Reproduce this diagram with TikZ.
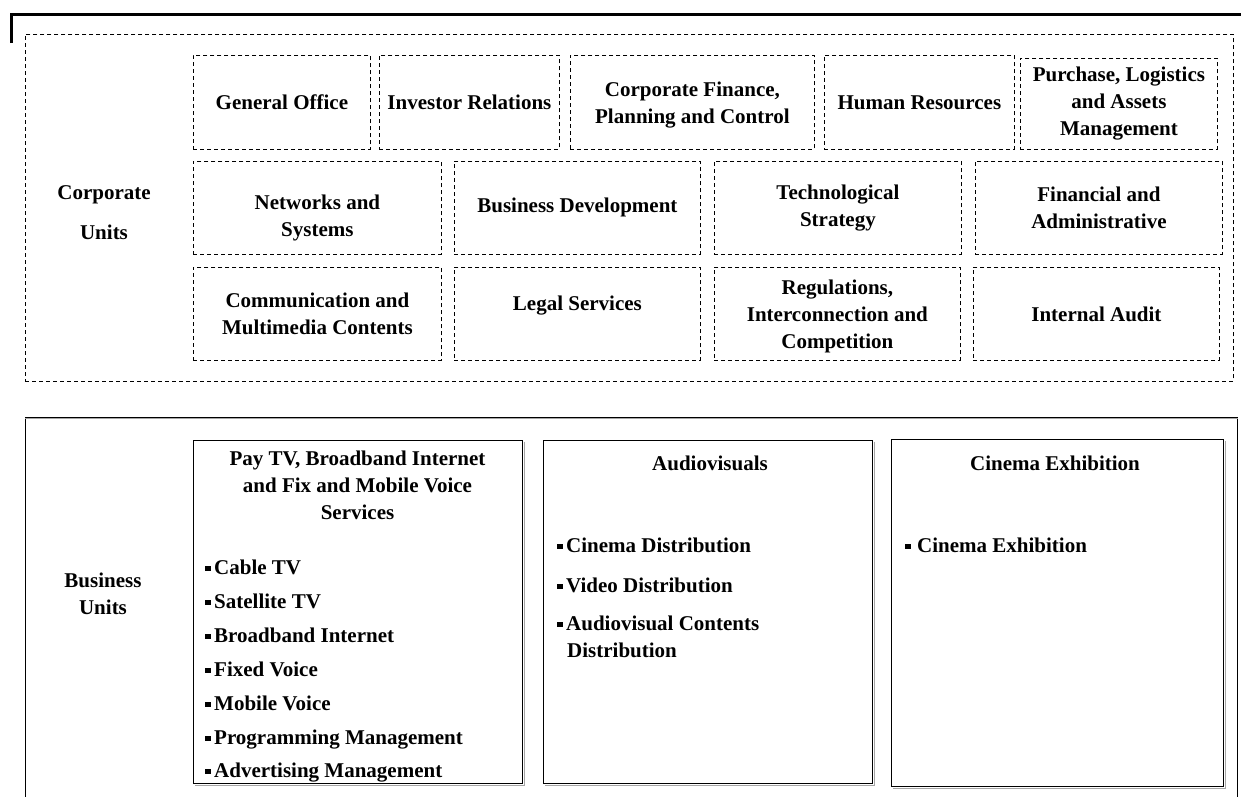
\documentclass[tikz,border=0pt]{standalone}
\usepackage{fontspec}
\setmainfont{Liberation Serif}
\newcommand{\bul}{\rule[3pt]{5.5pt}{5.5pt}\hspace{3.5pt}}
\begin{document}
\begin{tikzpicture}[x=1pt,y=-1pt,
  every node/.style={font=\bfseries\fontsize{21}{27}\selectfont, inner sep=0pt},
  cu/.style={draw, line width=0.8pt, dash pattern=on 4pt off 3pt, align=center, anchor=north west},
  bu/.style={draw, line width=1.2pt, anchor=north west},
  shd/.style={draw=black!35, line width=1pt},
  lbl/.style={align=center},
  item/.style={anchor=base west}]
\useasboundingbox (0,0) rectangle (1241,796);
% top frame line
\coordinate (tl) at (11,43);
\coordinate (tc) at (11,14.5);
\coordinate (tr) at (1241,14.5);
\draw[line width=3pt] (tl) -- (tc) -- (tr);
% corporate units
\node[draw, line width=0.9pt, dash pattern=on 4pt off 3pt, anchor=north west,
      minimum width=1208pt, minimum height=347pt] (corp) at (25,34) {};
\node[lbl] (corplbl) at (104,213) {Corporate\\[13pt]Units};
% row 1
\node[cu, minimum width=177pt, minimum height=94pt] (go) at (193,55) {General Office};
\node[cu, minimum width=180pt, minimum height=94pt] (ir) at (379,55) {Investor Relations};
\node[cu, minimum width=244pt, minimum height=94pt, text height=47.5pt] (cf) at (570,55) {Corporate Finance,\\Planning and Control};
\node[cu, minimum width=190pt, minimum height=94pt] (hr) at (824,55) {Human Resources};
\node[cu, minimum width=197pt, minimum height=91pt] (pl) at (1020,58) {Purchase, Logistics\\and Assets\\Management};
% row 2
\node[cu, minimum width=248pt, minimum height=93pt, text height=62pt] (ns) at (193,161) {Networks and\\Systems};
\node[cu, minimum width=246pt, minimum height=93pt] (bd) at (454,161) {Business Development};
\node[cu, minimum width=247pt, minimum height=93pt] (ts) at (714,161) {Technological\\Strategy};
\node[cu, minimum width=247pt, minimum height=93pt] (fa) at (975,161) {Financial and\\Administrative};
% row 3
\node[cu, minimum width=248pt, minimum height=93pt] (cm) at (193,267) {Communication and\\Multimedia Contents};
\node[cu, minimum width=246pt, minimum height=93pt, text depth=22pt] (ls) at (454,267) {Legal Services};
\node[cu, minimum width=246pt, minimum height=93pt, text height=74pt] (rc) at (714,267) {Regulations,\\Interconnection and\\Competition};
\node[cu, minimum width=246pt, minimum height=93pt] (ia) at (973,267) {Internal Audit};
% business units
\node[draw, line width=1.2pt, anchor=north west, minimum width=1212pt, minimum height=420pt] (busi) at (25,417) {};
\draw[shd] ([shift={(0,1.6)}]busi.north west) -- ([shift={(0,1.6)}]busi.north east);
\node[lbl] (busilbl) at (103,594) {Business\\Units};
\node[bu, minimum width=329pt, minimum height=343pt] (paytv) at (193,440) {};
\node[bu, minimum width=329pt, minimum height=343pt] (audio) at (543,440) {};
\node[bu, minimum width=332pt, minimum height=347pt] (cinema) at (891,439) {};
\foreach \b in {paytv,audio,cinema}{
  \draw[shd] ([shift={(1.6,1.6)}]\b.north east) -- ([shift={(1.6,1.6)}]\b.south east)
             -- ([shift={(1.6,1.6)}]\b.south west);
}
\node[lbl] (paytvT) at (357.5,485) {Pay TV, Broadband Internet\\and Fix and Mobile Voice\\Services};
\node (audioT) at (710,463) {Audiovisuals};
\node (cinemaT) at (1055,463) {Cinema Exhibition};
\node[item] (p1) at (205,574) {\bul Cable TV};
\node[item] (p2) at (205,608) {\bul Satellite TV};
\node[item] (p3) at (205,642) {\bul Broadband Internet};
\node[item] (p4) at (205,676) {\bul Fixed Voice};
\node[item] (p5) at (205,710) {\bul Mobile Voice};
\node[item] (p6) at (205,744) {\bul Programming Management};
\node[item] (p7) at (205,777) {\bul Advertising Management};
\node[item] (a1) at (557,552) {\bul Cinema Distribution};
\node[item] (a2) at (557,592) {\bul Video Distribution};
\node[item] (a3) at (557,630) {\bul Audiovisual Contents};
\node[item] (a4) at (567,657) {Distribution};
\node[item] (c1) at (905,552) {\bul\hspace{3pt}Cinema Exhibition};
\end{tikzpicture}
\end{document}
